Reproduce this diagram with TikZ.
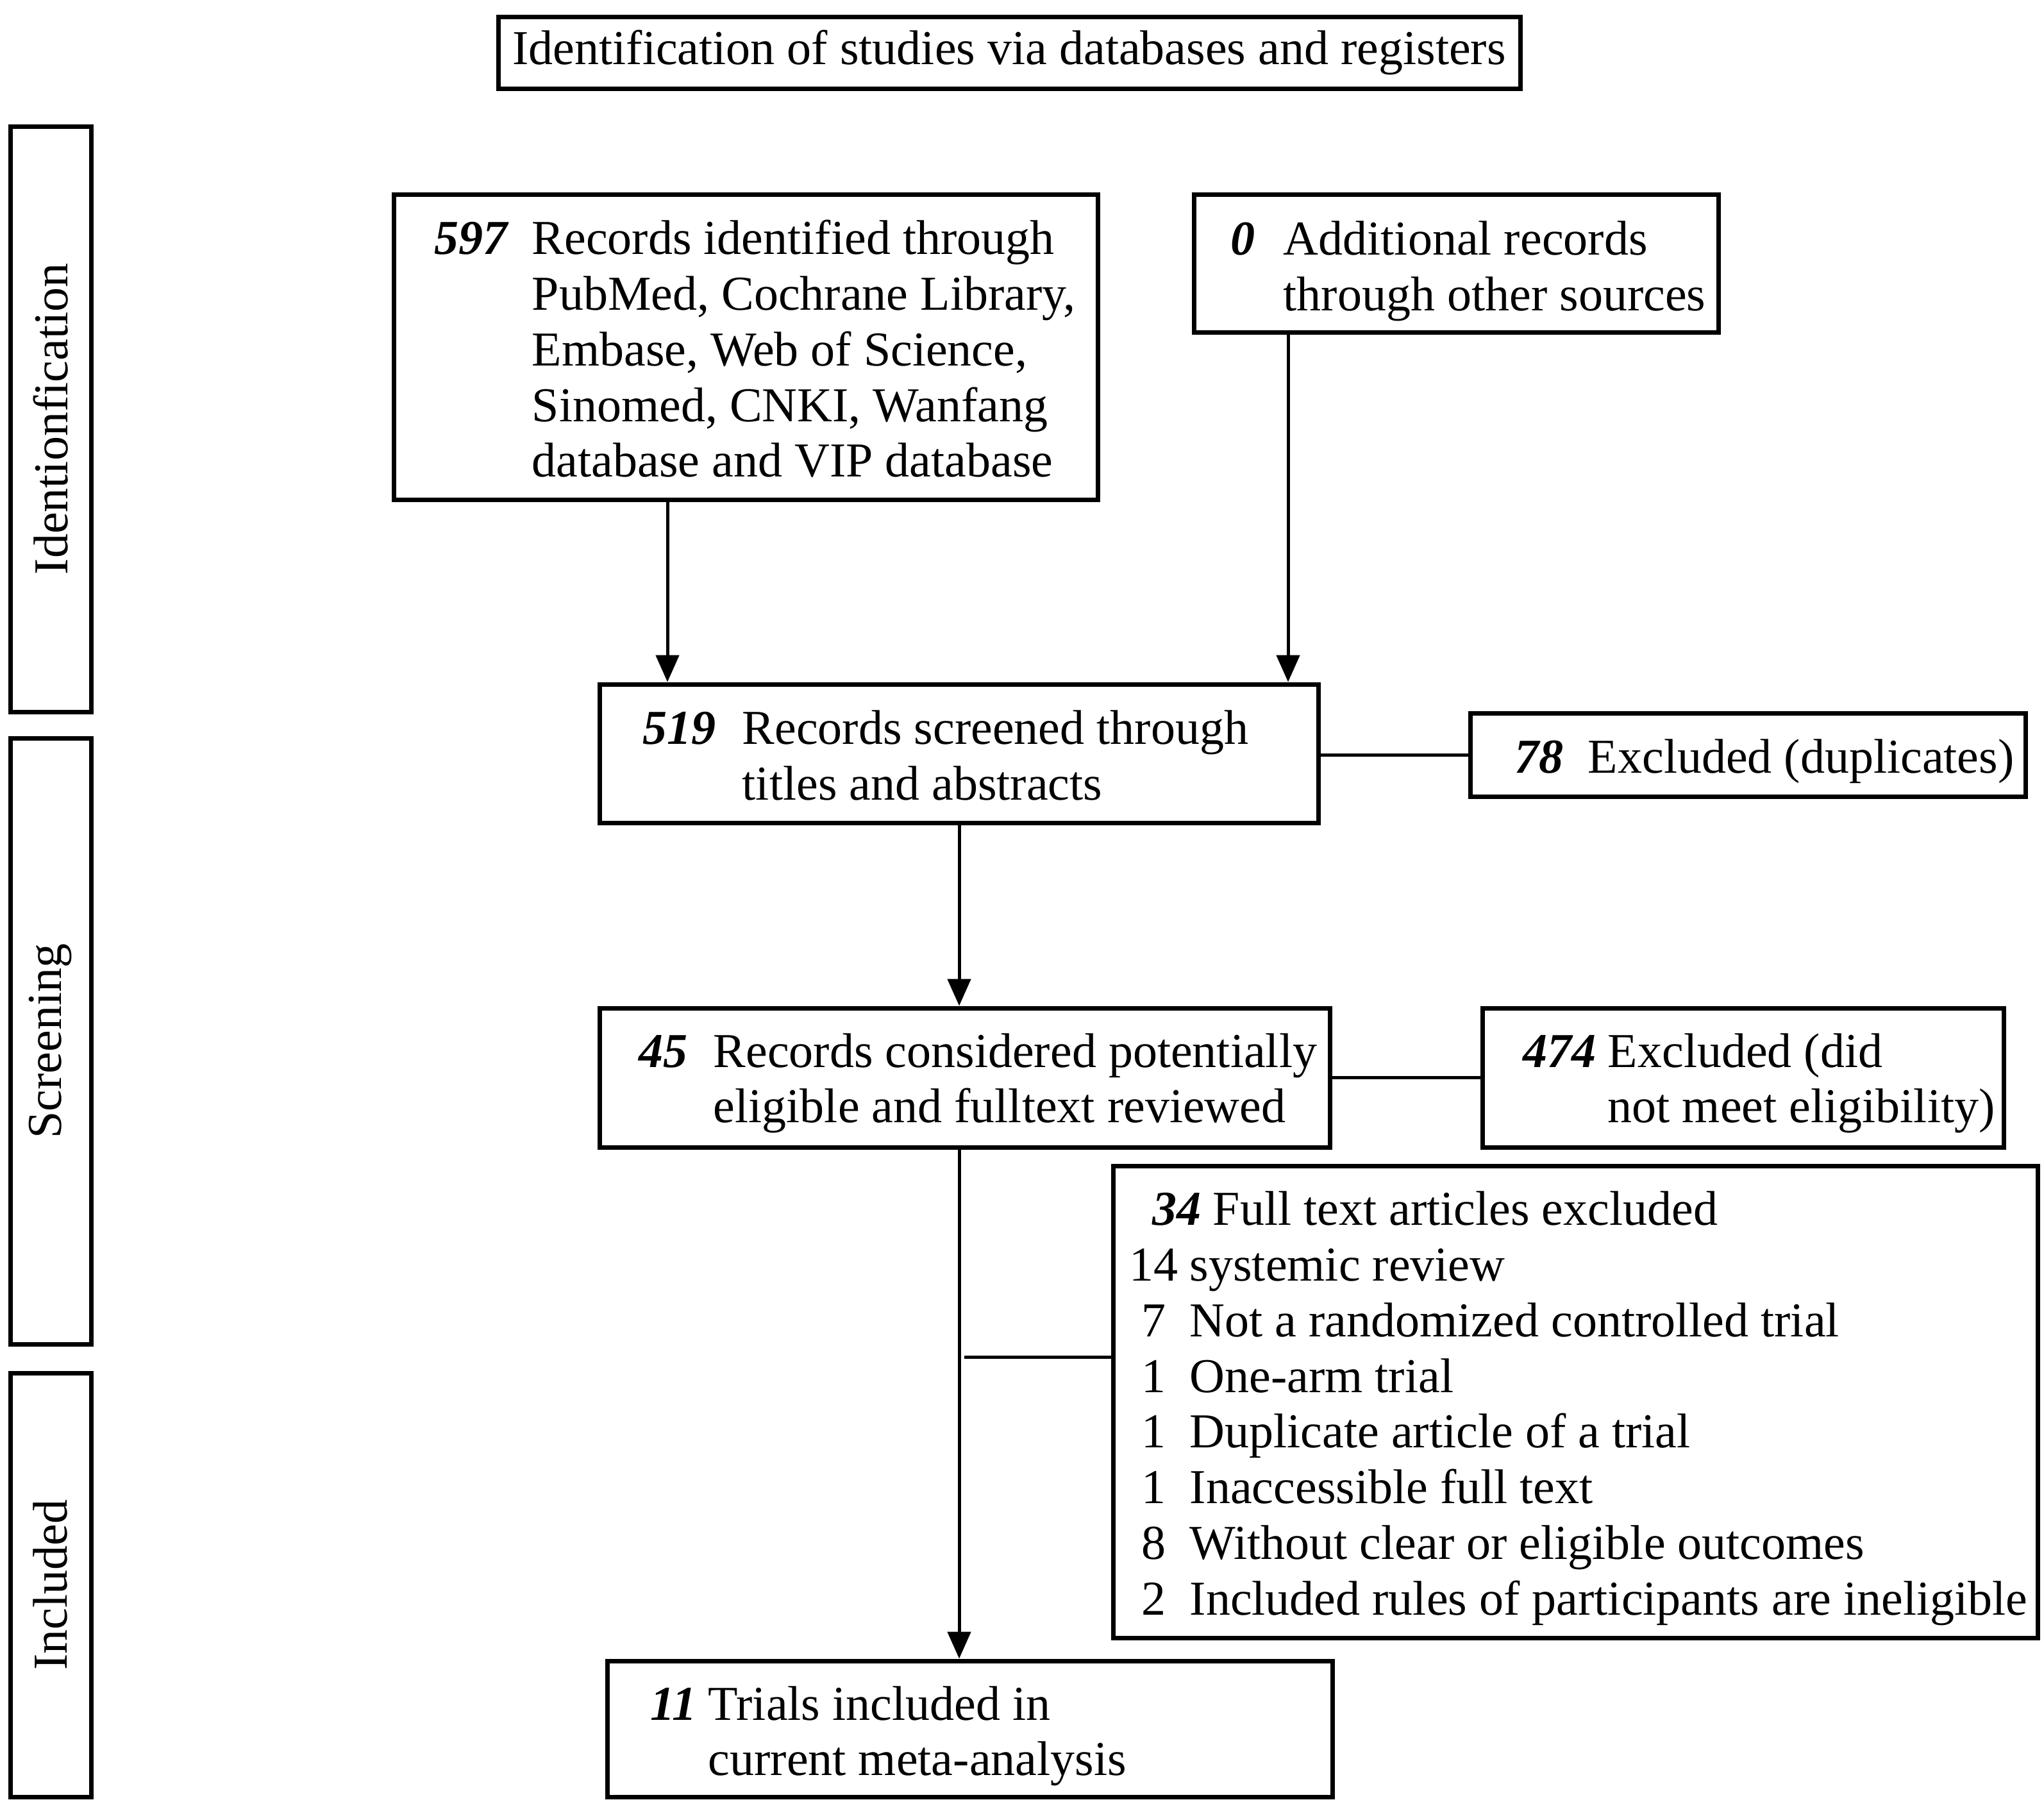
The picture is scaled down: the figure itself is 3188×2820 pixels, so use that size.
\documentclass[tikz,border=0pt]{standalone}
\usepackage{fontspec}
\setmainfont{Liberation Serif}
\usetikzlibrary{arrows.meta}
\newcommand{\bfit}[1]{\textbf{\textit{#1}}}
\begin{document}
\begin{tikzpicture}[x=0.25pt,y=-0.25pt,
  box/.style={draw,line width=1.75pt,inner sep=0pt},
  txt/.style={anchor=west,inner sep=0pt,align=left,font=\fontsize{19}{21.7}\selectfont},
  arr/.style={line width=1.25pt,-{Triangle[length=10.5pt,width=9pt]}},
  ln/.style={line width=1.25pt}]
\useasboundingbox (0,0) rectangle (3188,2820);

% title
\node[box,minimum width=398.5pt,minimum height=28pt,font=\fontsize{19}{21.7}\selectfont] (T) at (1574,82) {Identification of studies via databases and registers};

% side boxes
\node[box,minimum width=31.5pt,minimum height=228.25pt] (S1) at (79,653.5) {};
\node[box,minimum width=31.5pt,minimum height=236.25pt] (S2) at (79,1623.5) {};
\node[box,minimum width=31.5pt,minimum height=165.25pt] (S3) at (79,2471.5) {};
\node[txt,anchor=center,rotate=90] (L1) at (S1) {Identionfication};
\node[txt,anchor=center,rotate=90] (L2) at (S2) {Screening};
\node[txt,anchor=center,rotate=90] (L3) at (S3) {Included};

% main boxes
\node[box,minimum width=274.5pt,minimum height=119pt] (A) at (1163,541) {};
\node[box,minimum width=204.5pt,minimum height=53.75pt] (B) at (2271,410.5) {};
\node[box,minimum width=280.25pt,minimum height=54pt] (C) at (1495.5,1175) {};
\node[box,minimum width=216.5pt,minimum height=32.5pt] (D) at (2726,1177) {};
\node[box,minimum width=284.75pt,minimum height=54.25pt] (E) at (1504.5,1680.5) {};
\node[box,minimum width=203.25pt,minimum height=54.25pt] (F) at (2718.5,1680.5) {};
\node[box,minimum width=360.5pt,minimum height=184pt] (G) at (2457,2186) {};
\node[box,minimum width=282.75pt,minimum height=53pt] (H) at (1512.5,2696) {};

% texts
\node[txt] (tA) at (677,553) {\begin{tabular}{@{}p{38pt}@{}l@{}}\bfit{597} & Records identified through\\ & PubMed, Cochrane Library,\\ & Embase, Web of Science,\\ & Sinomed, CNKI, Wanfang\\ & database and VIP database\end{tabular}};
\node[txt] (tB) at (1919,424) {\begin{tabular}{@{}p{20.5pt}@{}l@{}}\bfit{0} & Additional records\\ & through other sources\end{tabular}};
\node[txt] (tC) at (1002,1187) {\begin{tabular}{@{}p{38.75pt}@{}l@{}}\bfit{519} & Records screened through\\ & titles and abstracts\end{tabular}};
\node[txt] (tD) at (2362,1188) {\begin{tabular}{@{}p{28.5pt}@{}l@{}}\bfit{78} & Excluded (duplicates)\end{tabular}};
\node[txt] (tE) at (996,1690) {\begin{tabular}{@{}p{29pt}@{}l@{}}\bfit{45} & Records considered potentially\\ & eligible and fulltext reviewed\end{tabular}};
\node[txt] (tF) at (2375,1690) {\begin{tabular}{@{}p{33pt}@{}l@{}}\bfit{474} & Excluded (did\\ & not meet eligibility)\end{tabular}};
\node[txt] (tG) at (1751,2197) {\begin{tabular}{@{}l@{}}\hspace{11.5pt}\makebox[23.5pt][l]{\bfit{34}}Full text articles excluded\\
\makebox[24pt][c]{14}\hspace{2pt}systemic review\\
\makebox[24pt][c]{7}\hspace{2pt}Not a randomized controlled trial\\
\makebox[24pt][c]{1}\hspace{2pt}One-arm trial\\
\makebox[24pt][c]{1}\hspace{2pt}Duplicate article of a trial\\
\makebox[24pt][c]{1}\hspace{2pt}Inaccessible full text\\
\makebox[24pt][c]{8}\hspace{2pt}Without clear or eligible outcomes\\
\makebox[24pt][c]{2}\hspace{2pt}Included rules of participants are ineligible\end{tabular}};
\node[txt] (tH) at (1014,2708) {\begin{tabular}{@{}p{22.5pt}@{}l@{}}\bfit{11} & Trials included in\\ & current meta-analysis\end{tabular}};

% connectors
\coordinate (ax) at (1041,0);
\coordinate (bx) at (2009,0);
\coordinate (mx) at (1496,0);
\coordinate (gj) at (1504,2116);
\draw[arr] (A.south -| ax) -- (C.north -| ax);
\draw[arr] (B.south -| bx) -- (C.north -| bx);
\draw[arr] (C.south -| mx) -- (E.north -| mx);
\draw[arr] (E.south -| mx) -- (H.north -| mx);
\draw[ln] (C.east |- D.west) -- (D.west);
\draw[ln] (E.east) -- (F.west);
\draw[ln] (gj) -- (gj -| G.west);
\end{tikzpicture}
\end{document}
